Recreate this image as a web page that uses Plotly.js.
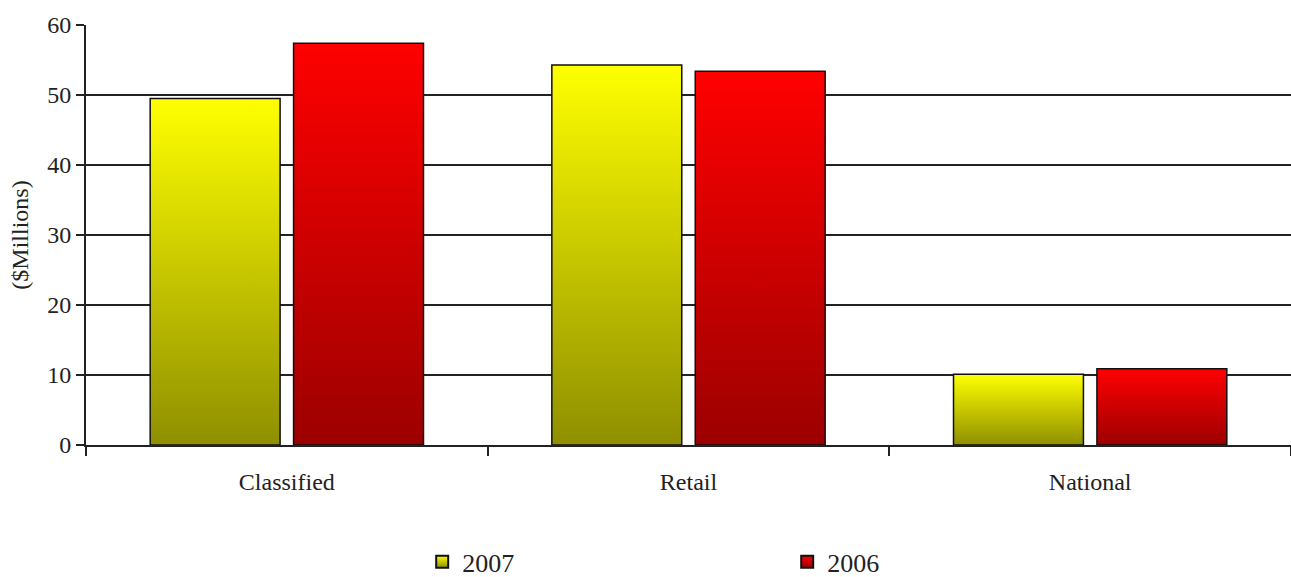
<!DOCTYPE html>
<html>
<head>
<meta charset="utf-8">
<script src="https://cdn.plot.ly/plotly-3.0.1.min.js"></script>
<style>
  html, body { margin: 0; padding: 0; background: #fff; }
  #chart { width: 1291px; height: 577px; }
</style>
</head>
<body>
<div id="chart"></div>
<script>
const categories = ["Classified", "Retail", "National"];
const values2007 = [49.5, 54.3, 10.1];
const values2006 = [57.4, 53.4, 10.9];
const seriesNames = ["2007", "2006"];
const yTicks = [0, 10, 20, 30, 40, 50, 60];

const fontFam = '"Liberation Serif", "Times New Roman", serif';

const traces = [
  {
    type: 'bar', name: seriesNames[0], x: categories, y: values2007,
    marker: { color: '#ffff00', line: { color: '#111', width: 1.5 } },
    hoverinfo: 'x+y'
  },
  {
    type: 'bar', name: seriesNames[1], x: categories, y: values2006,
    marker: { color: '#ff0000', line: { color: '#111', width: 1.5 } },
    hoverinfo: 'x+y'
  }
];

const layout = {
  width: 1291, height: 577,
  margin: { l: 86, r: 0, t: 25, b: 132, autoexpand: false },
  paper_bgcolor: '#fff', plot_bgcolor: '#fff',
  font: { family: fontFam, size: 24, color: '#222' },
  barmode: 'group',
  bargap: 0.286,
  bargroupgap: 0.094,
  showlegend: true,
  legend: {
    orientation: 'h', x: 0.279, xanchor: 'left', y: -0.222, yanchor: 'top',
    entrywidth: 320, entrywidthmode: 'pixels',
    font: { family: fontFam, size: 26, color: '#222' },
    itemwidth: 30, tracegroupgap: 0
  },
  xaxis: {
    type: 'category',
    showline: true, linecolor: '#222', linewidth: 2,
    ticks: 'outside', tickson: 'boundaries', ticklen: 9, tickwidth: 2, tickcolor: '#222',
    tickfont: { family: fontFam, size: 24, color: '#222' },
    ticklabelstandoff: 14,
    showgrid: false, zeroline: false,
    fixedrange: true
  },
  yaxis: {
    range: [0, 60], tickvals: yTicks, ticktext: yTicks.map(String),
    showline: true, linecolor: '#222', linewidth: 2,
    ticks: 'outside', ticklen: 8, tickwidth: 2, tickcolor: '#222',
    showgrid: true, gridcolor: '#222', gridwidth: 2,
    zeroline: false,
    tickfont: { family: fontFam, size: 24, color: '#222' },
    title: { text: '($Millions)', font: { family: fontFam, size: 24, color: '#222' }, standoff: 12 },
    fixedrange: true
  }
};

function applyGradients(gd) {
  const svg = gd.querySelector('svg.main-svg');
  const ns = 'http://www.w3.org/2000/svg';
  let defs = svg.querySelector('defs');
  if (!defs) { defs = document.createElementNS(ns, 'defs'); svg.insertBefore(defs, svg.firstChild); }
  const grads = [
    { id: 'gradY', top: '#ffff00', bottom: '#8f8f00' },
    { id: 'gradR', top: '#ff0000', bottom: '#9c0000' }
  ];
  grads.forEach(g => {
    if (document.getElementById(g.id)) return;
    const lg = document.createElementNS(ns, 'linearGradient');
    lg.setAttribute('id', g.id);
    lg.setAttribute('x1', '0'); lg.setAttribute('y1', '0');
    lg.setAttribute('x2', '0'); lg.setAttribute('y2', '1');
    const s1 = document.createElementNS(ns, 'stop');
    s1.setAttribute('offset', '0'); s1.setAttribute('stop-color', g.top);
    const s2 = document.createElementNS(ns, 'stop');
    s2.setAttribute('offset', '1'); s2.setAttribute('stop-color', g.bottom);
    lg.appendChild(s1); lg.appendChild(s2); defs.appendChild(lg);
  });
  const barTraces = gd.querySelectorAll('.barlayer .trace.bars');
  barTraces.forEach((t, i) => {
    t.querySelectorAll('.point path').forEach(p => { p.style.fill = 'url(#' + grads[i].id + ')'; });
  });
  const legTraces = gd.querySelectorAll('.legend .traces');
  legTraces.forEach((t, i) => {
    t.querySelectorAll('.legendpoints path').forEach(p => {
      p.style.fill = 'url(#' + grads[i].id + ')';
      p.style.stroke = '#111'; p.style.strokeWidth = '2px';
    });
  });
}

Plotly.newPlot('chart', traces, layout, { displayModeBar: false, staticPlot: true }).then(applyGradients);
</script>
</body>
</html>
